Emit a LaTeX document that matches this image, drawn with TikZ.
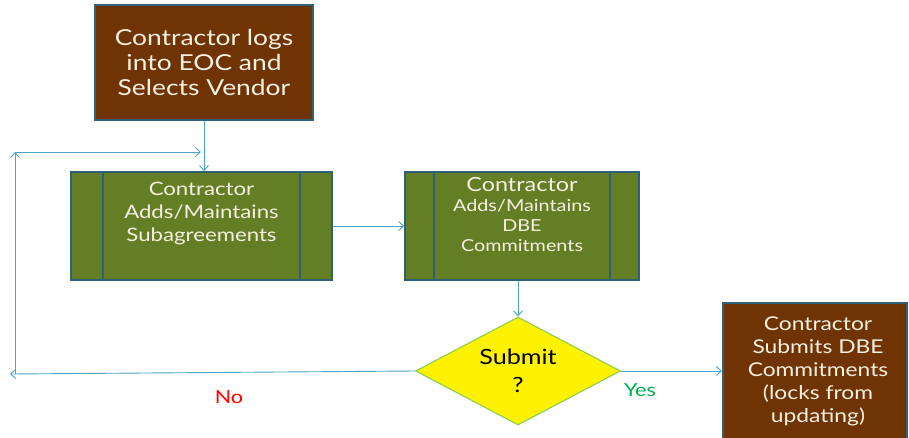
\documentclass[tikz,border=0pt]{standalone}
\usepackage{fontspec}
\setmainfont[FakeStretch=1.2]{Lato}
\usetikzlibrary{arrows.meta,shapes.geometric}
\definecolor{brownf}{RGB}{112,52,4}
\definecolor{greenf}{RGB}{100,126,38}
\definecolor{edgec}{RGB}{47,98,118}
\definecolor{arrc}{RGB}{75,165,195}
\definecolor{txtc}{RGB}{245,240,225}
\definecolor{diaedge}{RGB}{146,208,80}
\definecolor{yesc}{RGB}{0,176,80}
\tikzset{
  brownbox/.style={draw=edgec, line width=1.6pt, fill=brownf, text=txtc, align=center, inner sep=0pt},
  procbox/.style={draw=edgec, line width=1.6pt, fill=greenf, inner sep=0pt},
  boxtext/.style={text=txtc, align=center, inner sep=0pt},
  arr/.style={draw=arrc, line width=0.9pt, -{Straight Barb[length=5pt,width=9pt]}},
}
\begin{document}
\begin{tikzpicture}[x=1pt,y=-1pt]
\useasboundingbox (0,0) rectangle (909,437);
\begin{scope}
\clip (0,0) rectangle (909,437);
% start box
\node[brownbox, minimum width=218pt, minimum height=115pt, font=\fontsize{22}{25}\selectfont] (start) at (204,62.5) {Contractor logs\\into EOC and\\Selects Vendor};
% process 1
\node[procbox, minimum width=261pt, minimum height=108pt] (b1) at (201.5,226) {};
\draw[edgec, line width=1.6pt] ([xshift=33pt]b1.north west) -- ([xshift=33pt]b1.south west);
\draw[edgec, line width=1.6pt] ([xshift=-33pt]b1.north east) -- ([xshift=-33pt]b1.south east);
\node[boxtext, font=\fontsize{18.5}{23}\selectfont] (b1t) at (201.5,213) {Contractor\\Adds/Maintains\\Subagreements};
% process 2
\node[procbox, minimum width=234pt, minimum height=108pt] (b2) at (522,226) {};
\draw[edgec, line width=1.6pt] ([xshift=30pt]b2.north west) -- ([xshift=30pt]b2.south west);
\draw[edgec, line width=1.6pt] ([xshift=-30pt]b2.north east) -- ([xshift=-30pt]b2.south east);
\node[boxtext, font=\fontsize{16.5}{20}\selectfont] (b2t) at (522,214) {{\fontsize{19.5}{20}\selectfont Contractor}\\Adds/Maintains\\DBE\\Commitments};
% diamond
\node[diamond, draw=diaedge, line width=1.2pt, fill=yellow, minimum width=205pt, minimum height=108pt, inner sep=0pt, aspect=1.9, align=center, font=\fontsize{21}{28}\selectfont] (dia) at (518,371) {Submit\\?};
% end box
\node[brownbox, minimum width=184pt, minimum height=140pt, anchor=north west] (end) at (722,302) {};
\node[boxtext, font=\fontsize{19}{23}\selectfont] (endt) at (818,371) {Contractor\\Submits DBE\\Commitments\\(locks from\\updating)};
% connectors
\draw[arr] (start.south) -- (start.south |- b1.north);
\draw[arr] (b1.east) -- (b2.west);
\draw[arr] (dia.north |- b2.south) -- (dia.north);
\draw[arr] (dia.east) -- (end.west |- dia.east);
\coordinate (fl) at (10,374);
\coordinate (fb) at (15,374);
\coordinate (fc) at (15,152);
\coordinate (fj) at (201,152);
\draw[arr] (dia.west) -- (fl);
\draw[arr] (fb) -- (fc);
\draw[arr] (fc) -- (fj);
\node[text=red, font=\fontsize{18}{20}\selectfont] (no) at (229,397) {No};
\node[text=yesc, font=\fontsize{18}{20}\selectfont] (yes) at (640,390) {Yes};
\end{scope}
\end{tikzpicture}
\end{document}
